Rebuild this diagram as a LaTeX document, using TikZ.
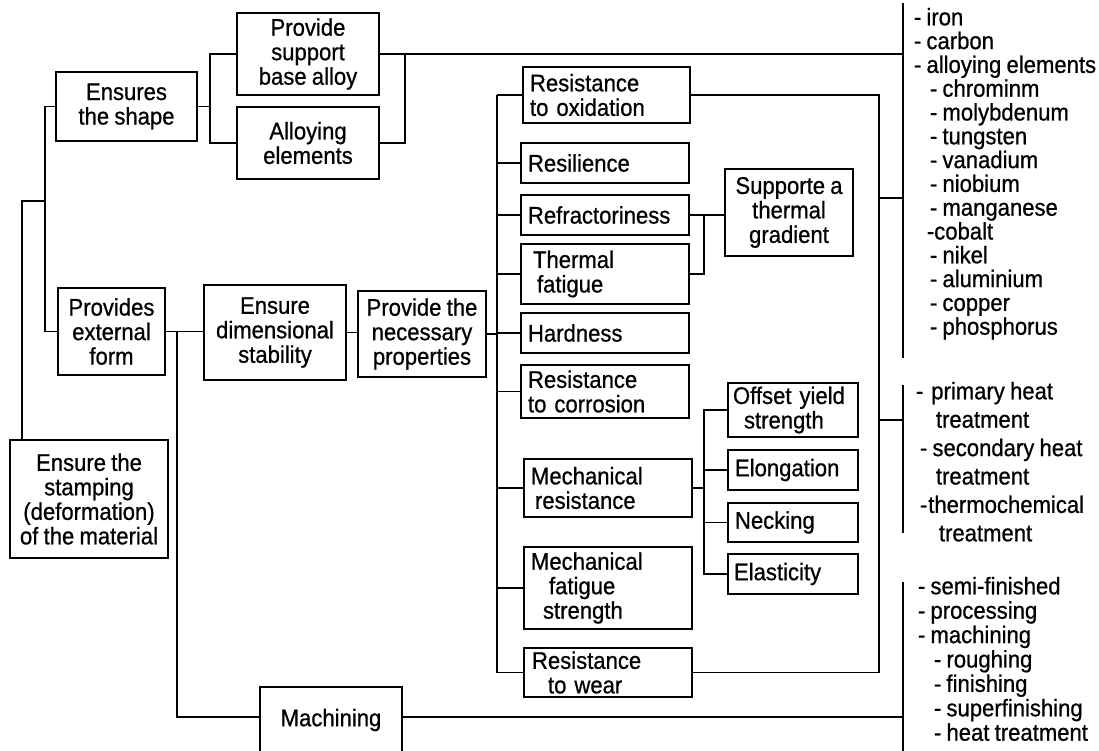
\documentclass[tikz,border=0pt]{standalone}
\usepackage{fontspec}
\setmainfont{Liberation Sans}[FakeStretch=0.92,FakeBold=0.7,WordSpace=0.85]
\begin{document}
\begin{tikzpicture}[x=1pt,y=-1pt,line width=1.8pt,
  every node/.style={font=\fontsize{24}{24.5}\selectfont},
  cbox/.style={draw,align=center,inner sep=2pt},
  lbox/.style={draw,align=left,inner xsep=7pt,inner ysep=2pt},
  listtext/.style={anchor=north west,inner sep=0pt,align=left}]
\useasboundingbox (0,0) rectangle (1099,751);

% left branch
\node[cbox,minimum width=141pt,minimum height=69pt] (shape) at (126.5,106.5) {Ensures\\the shape};
\node[cbox,minimum width=142pt,minimum height=82pt] (support) at (308,54) {Provide\\support\\base alloy};
\node[cbox,minimum width=142pt,minimum height=72pt] (alloy) at (308,143) {Alloying\\elements};
\node[cbox,minimum width=107pt,minimum height=87pt] (ext) at (111.5,331.5) {Provides\\external\\form};
\node[cbox,minimum width=142pt,minimum height=95pt] (dim) at (275,332.5) {Ensure\\dimensional\\stability};
\node[cbox,minimum width=128pt,minimum height=86pt] (nec) at (422,334) {Provide the\\necessary\\properties};
\node[cbox,minimum width=158pt,minimum height=118pt] (stamp) at (89,499) {Ensure the\\stamping\\(deformation)\\of the material};
\node[cbox,minimum width=142pt,minimum height=66pt] (mach) at (331,720) {Machining};

% properties column
\node[lbox,text width=153pt,minimum height=56pt] (ox) at (606.5,95) {Resistance\\to oxidation};
\node[lbox,text width=154pt,minimum height=40pt] (resil) at (605,163) {Resilience};
\node[lbox,text width=154pt,minimum height=40pt] (refr) at (605,215) {Refractoriness};
\node[lbox,text width=154pt,minimum height=60pt] (therm) at (605,274) {\hspace*{5pt}Thermal\\\hspace*{9pt}fatigue};
\node[lbox,text width=154pt,minimum height=40pt] (hard) at (605,333) {Hardness};
\node[lbox,text width=154pt,minimum height=53pt] (corr) at (605,391.5) {Resistance\\to corrosion};
\node[lbox,text width=154pt,minimum height=58pt] (mech) at (608,488) {Mechanical\\\hspace*{4pt}resistance};
\node[lbox,text width=154pt,minimum height=82pt] (fat) at (608,588) {Mechanical\\\hspace*{18pt}fatigue\\\hspace*{12pt}strength};
\node[lbox,text width=154pt,minimum height=49pt] (wear) at (608,672.5) {\hspace*{1pt}Resistance\\\hspace*{17pt}to wear};

% sub-properties
\node[cbox,minimum width=128pt,minimum height=87pt] (grad) at (789,212.5) {Supporte a\\thermal\\gradient};
\node[lbox,inner xsep=5pt,text width=120pt,minimum height=54pt] (off) at (793,410) {Offset yield\\\hspace*{11pt}strength};
\node[lbox,text width=116pt,minimum height=40pt] (elong) at (793,470) {Elongation};
\node[lbox,text width=116pt,minimum height=39pt] (neck) at (793,522.5) {Necking};
\node[lbox,inner xsep=6pt,text width=118pt,minimum height=40pt] (elast) at (793,574) {Elasticity};

% lists on the right
\node[listtext,font=\fontsize{24}{23.8}\selectfont] (list1) at (913,7) {- iron\\- carbon\\- alloying elements\\
\hspace*{16pt}- chrominm\\\hspace*{16pt}- molybdenum\\\hspace*{16pt}- tungsten\\\hspace*{16pt}- vanadium\\
\hspace*{16pt}- niobium\\\hspace*{16pt}- manganese\\\hspace*{13pt}-cobalt\\\hspace*{16pt}- nikel\\
\hspace*{16pt}- aluminium\\\hspace*{16pt}- copper\\\hspace*{16pt}- phosphorus};
\node[listtext,font=\fontsize{24}{28.4}\selectfont] (list2) at (915,381) {-\hspace{8pt}primary heat\\
\hspace*{20pt}treatment\\\hspace*{4pt}- secondary heat\\\hspace*{20pt}treatment\\
\hspace*{4pt}-\hspace{1pt}thermochemical\\\hspace*{23pt}treatment};
\node[listtext,font=\fontsize{24}{24.4}\selectfont] (list3) at (917,576) {- semi-finished\\- processing\\- machining\\
\hspace*{16pt}- roughing\\\hspace*{16pt}- finishing\\\hspace*{16pt}- superfinishing\\\hspace*{16pt}- heat treatment};

% brackets
\coordinate (b1t) at (903,3);   \coordinate (b1b) at (903,358);
\coordinate (b2t) at (903,385); \coordinate (b2b) at (903,533);
\coordinate (b3t) at (903,582); \coordinate (b3b) at (903,755);
\draw (b1t) -- (b1b);
\draw (b2t) -- (b2b);
\draw (b3t) -- (b3b);

% connectors
\coordinate (j1) at (45,201);
\draw ([xshift=13pt]stamp.north west) |- (j1);
\draw (shape.west) -| (j1) |- (ext.west);

\coordinate (j2) at (210,106.5);
\draw (shape.east) -- (j2);
\draw (support.west) -| (j2) |- (alloy.west);

\draw (support.east) -- (support.east -| b1t);
\coordinate (j3) at (405,54);
\draw (alloy.east) -| (j3);

\draw (ext.east) -- (ext.east -| dim.west);
\coordinate (j4) at (177,331.5);
\draw (j4) |- ([yshift=3pt]mach.west);
\draw (dim.east) -- (dim.east -| nec.west);

\coordinate (bus) at (497,334);
\draw (nec.east) -- (bus);
\draw (ox.west -| bus) -- (wear.west -| bus);
\foreach \n in {ox,resil,refr,therm,hard,corr,mech,fat,wear}
  \draw (\n.west) -- (\n.west -| bus);

\coordinate (j5) at (704,215);
\draw (refr.east) -- (refr.east -| grad.west);
\draw (therm.east) -| (j5);

\coordinate (j6) at (704,488);
\draw (mech.east) -- (j6);
\draw (off.west) -| (j6) |- (elast.west);
\draw (elong.west) -- (elong.west -| j6);
\draw (neck.west) -- (neck.west -| j6);

\coordinate (rb1) at (879,198);
\coordinate (rb2) at (879,420);
\draw (ox.east) -| (wear.east -| rb1) -- (wear.east);
\draw (rb1) -- (rb1 -| b1t);
\draw (rb2) -- (rb2 -| b2t);
\draw ([yshift=3pt]mach.east) -- ([yshift=3pt]mach.east -| b3t);
\end{tikzpicture}
\end{document}
